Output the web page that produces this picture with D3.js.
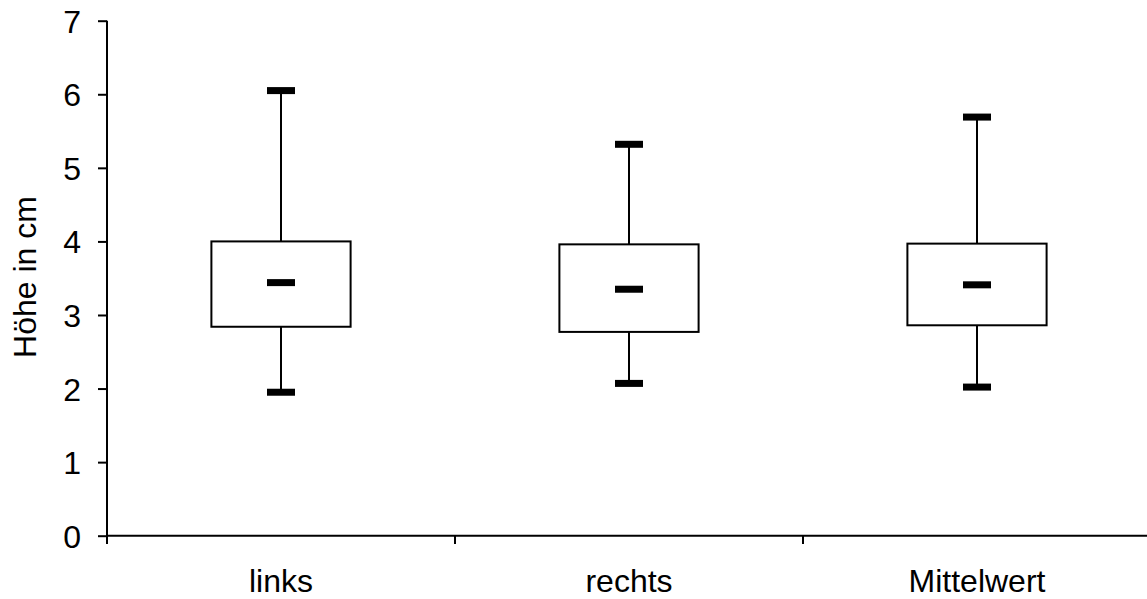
<!DOCTYPE html>
<html><head><meta charset="utf-8">
<script src="https://cdn.jsdelivr.net/npm/d3@7"></script>
<style>
html,body{margin:0;padding:0;background:#fff;}
svg{display:block;font-family:Arial,"Liberation Sans",sans-serif;}
</style></head>
<body>
<svg id="chart" width="1147" height="599"></svg>
<script>
const categories = ["links", "rechts", "Mittelwert"];
const whiskerLow  = [1.95, 2.07, 2.02];
const boxLow      = [2.84, 2.77, 2.86];
const median      = [3.44, 3.35, 3.41];
const boxHigh     = [4.00, 3.96, 3.97];
const whiskerHigh = [6.05, 5.32, 5.69];
const yTicks = [0, 1, 2, 3, 4, 5, 6, 7];

const data = categories.map((c, i) => ({
  cat: c, lo: whiskerLow[i], q1: boxLow[i], med: median[i], q3: boxHigh[i], hi: whiskerHigh[i]
}));

const svg = d3.select("#chart");
const x = d3.scaleBand().domain(categories).range([107, 1151]).padding(0);
const y = d3.scaleLinear().domain([0, 7]).range([535.7, 20.7]);
const bw = x.bandwidth();
const boxW = bw * 0.4;
const capW = 28;
const capH = 7;
const FS = 32;

// Y axis
const yAxis = svg.append("g").attr("transform", "translate(107,0)")
  .call(d3.axisLeft(y).tickValues(yTicks).tickSize(9).tickPadding(17).tickFormat(d3.format("d")));
yAxis.select(".domain").remove();
yAxis.selectAll(".tick line").attr("stroke", "#000").attr("stroke-width", 2);
yAxis.selectAll(".tick text").attr("font-size", FS).attr("fill", "#000").attr("dy", "0.36em")
  .attr("font-family", "Arial, 'Liberation Sans', sans-serif");
svg.append("line").attr("x1", 107).attr("x2", 107).attr("y1", y(7)).attr("y2", 544)
  .attr("stroke", "#000").attr("stroke-width", 2);

// X axis
svg.append("line").attr("x1", 107).attr("x2", 1151).attr("y1", y(0)).attr("y2", y(0))
  .attr("stroke", "#000").attr("stroke-width", 2);
const boundaries = categories.map(c => x(c)).concat([x(categories[categories.length-1]) + bw]);
svg.selectAll(".xtick").data(boundaries).enter().append("line")
  .attr("x1", d => d).attr("x2", d => d).attr("y1", y(0)).attr("y2", 544)
  .attr("stroke", "#000").attr("stroke-width", 2);
svg.selectAll(".xlab").data(categories).enter().append("text")
  .attr("x", d => x(d) + bw / 2).attr("y", 592)
  .attr("text-anchor", "middle").attr("font-size", FS).attr("fill", "#000")
  .text(d => d);

// Y title
svg.append("text").attr("transform", "translate(36,277) rotate(-90)")
  .attr("text-anchor", "middle").attr("font-size", FS).attr("fill", "#000")
  .text("Höhe in cm");

// Boxes
const g = svg.selectAll(".box").data(data).enter().append("g");
g.append("line").attr("x1", d => x(d.cat) + bw/2).attr("x2", d => x(d.cat) + bw/2)
  .attr("y1", d => y(d.hi)).attr("y2", d => y(d.q3)).attr("stroke", "#000").attr("stroke-width", 2);
g.append("line").attr("x1", d => x(d.cat) + bw/2).attr("x2", d => x(d.cat) + bw/2)
  .attr("y1", d => y(d.q1)).attr("y2", d => y(d.lo)).attr("stroke", "#000").attr("stroke-width", 2);
g.append("rect").attr("x", d => x(d.cat) + bw/2 - boxW/2).attr("width", boxW)
  .attr("y", d => y(d.q3)).attr("height", d => y(d.q1) - y(d.q3))
  .attr("fill", "#fff").attr("stroke", "#000").attr("stroke-width", 2);
["hi", "lo", "med"].forEach(k => {
  g.append("rect").attr("x", d => x(d.cat) + bw/2 - capW/2).attr("width", capW)
    .attr("y", d => y(d[k]) - capH/2).attr("height", capH).attr("fill", "#000");
});
</script>
</body></html>
